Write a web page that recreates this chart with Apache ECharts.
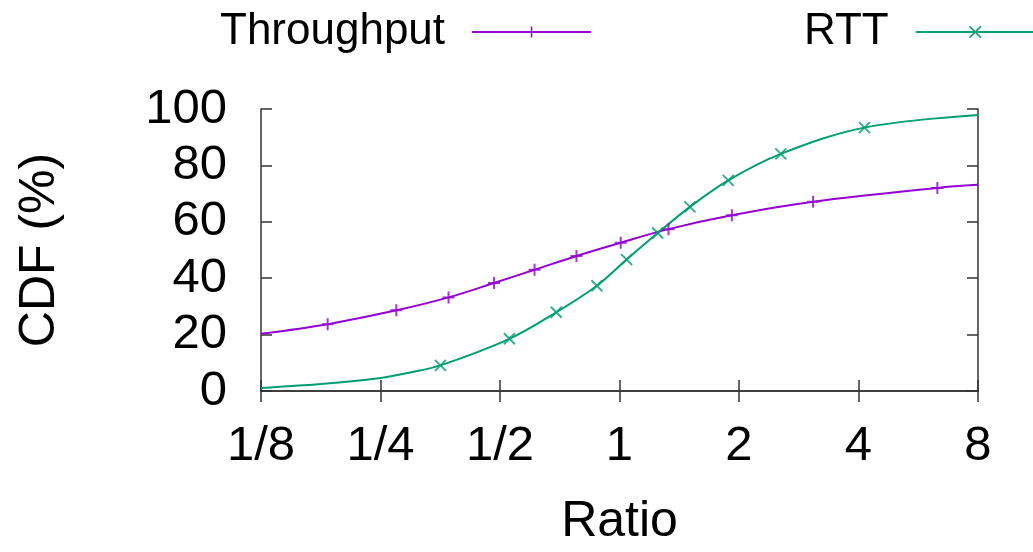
<!DOCTYPE html>
<html>
<head>
<meta charset="utf-8">
<script src="https://cdn.jsdelivr.net/npm/echarts@6/dist/echarts.min.js"></script>
<style>
html, body { margin: 0; padding: 0; background: #fff; }
#chart { width: 1033px; height: 552px; }
</style>
</head>
<body>
<div id="chart"></div>
<script>
// Tick labels on the ratio axis (powers of two)
const ratioTicks = [0.125, 0.25, 0.5, 1, 2, 4, 8];
const ratioTickLabels = ['1/8', '1/4', '1/2', '1', '2', '4', '8'];

// Throughput: marker points and curve end points (ratio, CDF %)
const throughputMarkRatio = [0.184, 0.274, 0.371, 0.483, 0.611, 0.779, 1.007, 1.329, 1.919, 3.074, 6.32];
const throughputMarkCDF   = [23.7, 28.6, 33.2, 38.3, 43.0, 47.9, 52.6, 57.4, 62.3, 67.1, 72.0];
const throughputEndRatio  = [0.125, 8];
const throughputEndCDF    = [20.3, 73.1];

// RTT: marker points and additional curve points
const rttMarkRatio = [0.354, 0.528, 0.693, 0.877, 1.042, 1.248, 1.505, 1.879, 2.549, 4.141];
const rttMarkCDF   = [9.1, 18.5, 27.9, 37.3, 46.6, 56.0, 65.3, 74.7, 84.1, 93.4];
const rttEndRatio  = [0.125, 0.177, 0.25, 0.295, 8];
const rttEndCDF    = [1.1, 2.5, 4.6, 6.5, 97.9];

const PURPLE = '#9400d3';
const GREEN = '#009e73';
const FONT = '"Liberation Sans", Arial, Helvetica, sans-serif';
const PLUS = 'path://M5,0L5,10M0,5L10,5';
const CROSS = 'path://M0,0L10,10M0,10L10,0';

function pairs(xs, ys) { return xs.map((x, i) => [x, ys[i]]); }
function merged(ax, ay, bx, by) {
  return pairs(ax, ay).concat(pairs(bx, by)).sort((a, b) => a[0] - b[0]);
}
function tickLabel(v) {
  const i = ratioTicks.findIndex(t => Math.abs(t - v) < 1e-6);
  return i >= 0 ? ratioTickLabels[i] : '';
}

const chart = echarts.init(document.getElementById('chart'), null, { renderer: 'canvas' });

const axisLineStyle = { color: '#333', width: 1.5 };
const xCommon = {
  type: 'log', logBase: 2, min: 0.125, max: 8,
  axisLine: { show: true, lineStyle: axisLineStyle },
  axisTick: { show: true, inside: true, length: 11, lineStyle: axisLineStyle },
  splitLine: { show: false }, minorTick: { show: false }
};
const yCommon = {
  type: 'value', min: 0, max: 100, interval: 20,
  axisLine: { show: true, lineStyle: axisLineStyle },
  axisTick: { show: true, inside: true, length: 11, lineStyle: axisLineStyle },
  splitLine: { show: false }
};

const legendText = { fontSize: 44, color: '#000', fontFamily: FONT };

chart.setOption({
  animation: false,
  backgroundColor: '#fff',
  grid: { left: 261, right: 55, top: 109, bottom: 159, containLabel: false },
  legend: [
    {
      data: [{ name: 'Throughput', itemStyle: { color: PURPLE, borderColor: PURPLE, borderWidth: 1.5 } }],
      left: 215, top: 5, align: 'right', itemWidth: 119, itemHeight: 14,
      textStyle: Object.assign({ padding: [0, 22, 0, 0] }, legendText),
      selectedMode: false
    },
    {
      data: [{ name: 'RTT', itemStyle: { color: GREEN, borderColor: GREEN, borderWidth: 1.5 } }],
      left: 799, top: 5, align: 'right', itemWidth: 119, itemHeight: 14,
      textStyle: Object.assign({ padding: [0, 22, 0, 0] }, legendText),
      selectedMode: false
    }
  ],
  xAxis: [
    Object.assign({}, xCommon, {
      position: 'bottom',
      name: 'Ratio', nameLocation: 'middle', nameGap: 106,
      nameTextStyle: { fontSize: 50, color: '#000', fontFamily: FONT },
      axisLabel: { show: true, margin: 31, fontSize: 49, color: '#000', fontFamily: FONT, formatter: tickLabel }
    }),
    Object.assign({}, xCommon, { position: 'top', axisLabel: { show: false } })
  ],
  yAxis: [
    Object.assign({}, yCommon, {
      position: 'left',
      name: 'CDF (%)', nameLocation: 'middle', nameGap: 196,
      nameTextStyle: { fontSize: 50, color: '#000', fontFamily: FONT },
      axisLabel: { show: true, margin: 34, fontSize: 49, color: '#000', fontFamily: FONT }
    }),
    Object.assign({}, yCommon, { position: 'right', axisLabel: { show: false } })
  ],
  series: [
    {
      name: 'Throughput', type: 'line', xAxisIndex: 0, yAxisIndex: 0,
      data: merged(throughputMarkRatio, throughputMarkCDF, throughputEndRatio, throughputEndCDF),
      smooth: 0.35, showSymbol: false, symbol: PLUS, symbolSize: 12,
      lineStyle: { color: PURPLE, width: 2 },
      itemStyle: { color: PURPLE, borderColor: PURPLE, borderWidth: 2 },
      silent: true, z: 3
    },
    {
      name: 'RTT', type: 'line', xAxisIndex: 0, yAxisIndex: 0,
      data: merged(rttMarkRatio, rttMarkCDF, rttEndRatio, rttEndCDF),
      smooth: 0.35, showSymbol: false, symbol: CROSS, symbolSize: 11,
      lineStyle: { color: GREEN, width: 2 },
      itemStyle: { color: GREEN, borderColor: GREEN, borderWidth: 2 },
      silent: true, z: 2
    },
    {
      name: 'Throughput', type: 'scatter', xAxisIndex: 0, yAxisIndex: 0,
      data: pairs(throughputMarkRatio, throughputMarkCDF),
      symbol: PLUS, symbolSize: 12,
      itemStyle: { color: PURPLE, borderColor: PURPLE, borderWidth: 2 },
      silent: true, z: 4
    },
    {
      name: 'RTT', type: 'scatter', xAxisIndex: 0, yAxisIndex: 0,
      data: pairs(rttMarkRatio, rttMarkCDF),
      symbol: CROSS, symbolSize: 11,
      itemStyle: { color: GREEN, borderColor: GREEN, borderWidth: 2 },
      silent: true, z: 4
    }
  ]
});
</script>
</body>
</html>
